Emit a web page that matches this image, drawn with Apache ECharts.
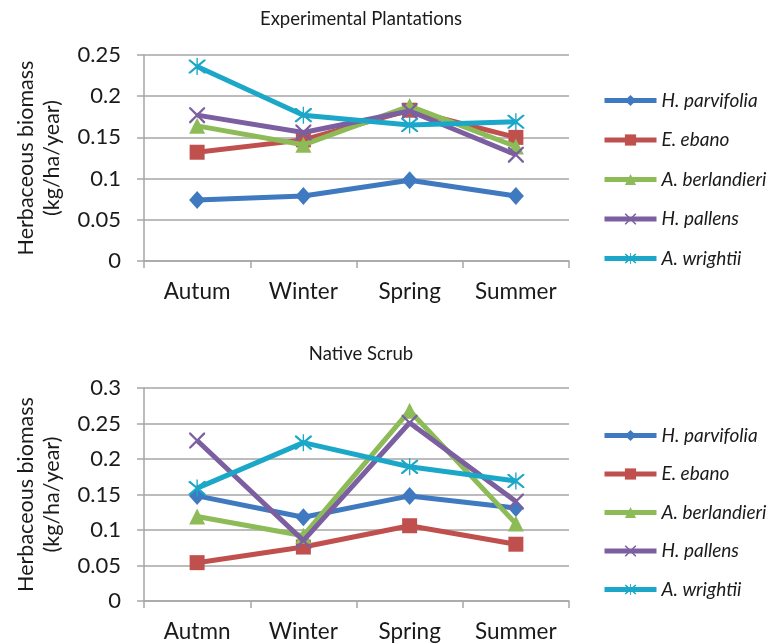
<!DOCTYPE html>
<html>
<head>
<meta charset="utf-8">
<script src="https://cdn.jsdelivr.net/npm/echarts@6/dist/echarts.min.js"></script>
<style>html,body{margin:0;padding:0;background:#fff}#c{width:767px;height:644px}</style>
</head>
<body>
<div id="c"></div>
<script>
// ---- data ----
const seriesNames = ['H. parvifolia', 'E. ebano', 'A. berlandieri', 'H. pallens', 'A. wrightii'];
const topCategories = ['Autum', 'Winter', 'Spring', 'Summer'];
const bottomCategories = ['Autmn', 'Winter', 'Spring', 'Summer'];
const topTitle = 'Experimental Plantations';
const bottomTitle = 'Native Scrub';
const yAxisTitle = 'Herbaceous biomass\n(kg/ha/year)';

const topParvifolia   = [0.074, 0.079, 0.098, 0.079];
const topEbano        = [0.132, 0.147, 0.183, 0.150];
const topBerlandieri  = [0.164, 0.141, 0.188, 0.139];
const topPallens      = [0.177, 0.156, 0.182, 0.129];
const topWrightii     = [0.236, 0.177, 0.165, 0.169];

const botParvifolia   = [0.148, 0.118, 0.148, 0.131];
const botEbano        = [0.054, 0.076, 0.106, 0.080];
const botBerlandieri  = [0.119, 0.092, 0.268, 0.109];
const botPallens      = [0.226, 0.085, 0.251, 0.140];
const botWrightii     = [0.159, 0.223, 0.189, 0.169];

const topTicks = { min: 0, max: 0.25, interval: 0.05 };
const botTicks = { min: 0, max: 0.3, interval: 0.05 };

// ---- styles ----
const colors = ['#3F79C0', '#C0504D', '#8DBB57', '#7C5FA1', '#1BA7C8'];
const xPath = 'path://M0,0 L2,0 L10,8 L18,0 L20,0 L20,2 L12,10 L20,18 L20,20 L18,20 L10,12 L2,20 L0,20 L0,18 L8,10 L0,2 Z';
const starPath = 'path://M0,0 L2,0 L10,8 L18,0 L20,0 L20,2 L12,10 L20,18 L20,20 L18,20 L10,12 L2,20 L0,20 L0,18 L8,10 L0,2 Z M9.2,-2 L10.8,-2 L10.8,22 L9.2,22 Z';
const symbols = ['diamond', 'rect', 'triangle', xPath, starPath];
const symbolSizes = [[16, 18], 15, 16, 16, 17];
const FONT = 'Lato';
const gray = '#A6A6A6';
const textColor = '#1a1a1a';

const topData = [topParvifolia, topEbano, topBerlandieri, topPallens, topWrightii];
const botData = [botParvifolia, botEbano, botBerlandieri, botPallens, botWrightii];

function makeSeries(dataSets, axisIdx) {
  return dataSets.map((d, i) => ({
    name: seriesNames[i],
    type: 'line',
    xAxisIndex: axisIdx,
    yAxisIndex: axisIdx,
    data: d,
    symbol: symbols[i],
    symbolSize: symbolSizes[i],
    showAllSymbol: true,
    lineStyle: { color: colors[i], width: 5 },
    itemStyle: { color: colors[i], borderWidth: 0 },
    emphasis: { disabled: true },
    animation: false,
    z: 2 + i
  }));
}

function makeX(cats, gridIndex) {
  return {
    type: 'category', gridIndex, data: cats, boundaryGap: true,
    axisLine: { lineStyle: { color: gray, width: 1.5 } },
    axisTick: { show: true, length: 7, lineStyle: { color: gray, width: 1.5 }, alignWithLabel: false },
    axisLabel: { color: textColor, fontFamily: FONT, fontSize: 22.5, margin: 19 },
    splitLine: { show: false }
  };
}
function makeY(t, gridIndex) {
  return {
    type: 'value', gridIndex, min: t.min, max: t.max, interval: t.interval,
    name: yAxisTitle, nameLocation: 'middle', nameRotate: 90, nameGap: 79,
    nameTextStyle: { color: textColor, fontFamily: FONT, fontSize: 21.5, lineHeight: 26 },
    axisLine: { show: true, lineStyle: { color: gray, width: 1.5 } },
    axisTick: { show: true, length: 7, lineStyle: { color: gray, width: 1.5 } },
    axisLabel: { color: textColor, fontFamily: FONT, fontSize: 22, margin: 23,
      formatter: v => String(Math.round(v * 100) / 100) },
    splitLine: { show: true, lineStyle: { color: gray, width: 1.5 } }
  };
}
function makeLegend(top, gap) {
  return {
    orient: 'vertical', left: 597, top, itemWidth: 52, itemHeight: 14, itemGap: gap,
    data: seriesNames,
    itemStyle: { borderWidth: 0 },
    lineStyle: { width: 5 },
    textStyle: { fontFamily: FONT, fontSize: 19, fontStyle: 'italic', color: textColor },
    selectedMode: false
  };
}

const chart = echarts.init(document.getElementById('c'), null, { renderer: 'canvas' });
chart.setOption({
  animation: false,
  title: [
    { text: topTitle, left: 356, top: 5, textAlign: 'center',
      textStyle: { fontFamily: FONT, fontSize: 18.5, fontWeight: 'normal', color: textColor } },
    { text: bottomTitle, left: 356, top: 340, textAlign: 'center',
      textStyle: { fontFamily: FONT, fontSize: 18.5, fontWeight: 'normal', color: textColor } }
  ],
  legend: [makeLegend(86, 20.5), makeLegend(421, 19.5)],
  grid: [
    { left: 144, top: 55, width: 425, height: 206 },
    { left: 144, top: 388, width: 425, height: 213 }
  ],
  xAxis: [makeX(topCategories, 0), makeX(bottomCategories, 1)],
  yAxis: [makeY(topTicks, 0), makeY(botTicks, 1)],
  series: makeSeries(topData, 0).concat(makeSeries(botData, 1))
});
</script>
</body>
</html>
